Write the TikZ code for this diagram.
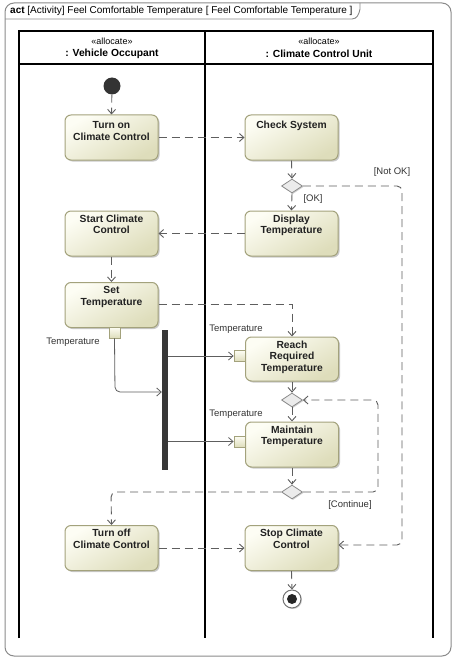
\documentclass[tikz,border=0pt]{standalone}
\usepackage{fontspec}
\setmainfont{Liberation Sans}
\usetikzlibrary{arrows.meta,shapes.geometric,shadows}
\definecolor{edgec}{HTML}{5E5E5E}
\definecolor{actborder}{HTML}{A3A27C}
\definecolor{acttop}{HTML}{FDFDF4}
\definecolor{actbot}{HTML}{DEDDBB}
\definecolor{framec}{HTML}{8A8A8A}
\definecolor{txtc}{HTML}{222222}
\begin{document}
\begin{tikzpicture}[x=1pt,y=-1pt,
  actbox/.style={rectangle, rounded corners=6pt, minimum width=93pt, minimum height=45pt,
    draw=actborder, line width=1pt, top color=acttop, bottom color=actbot, shading angle=30,
    drop shadow={shadow xshift=1.5pt, shadow yshift=-1.5pt, fill=black!35, opacity=0.6}},
  acttext/.style={anchor=north, align=center, inner sep=2pt, text=txtc,
    font=\fontsize{10.3}{11.8}\selectfont\bfseries},
  pinbox/.style={rectangle, minimum size=11pt, inner sep=0pt, draw=actborder, line width=0.8pt,
    top color=acttop, bottom color=actbot},
  decis/.style={diamond, minimum width=21pt, minimum height=14pt, inner sep=0pt, aspect=1.5,
    draw=black!45, fill=black!8, line width=0.8pt,
    drop shadow={shadow xshift=1pt, shadow yshift=-1pt, fill=black!30, opacity=0.6}},
  ctrl/.style={draw=edgec, line width=0.9pt, dash pattern=on 8pt off 5pt,
    -{Straight Barb[length=4.5pt,width=8pt]}},
  objf/.style={draw=edgec, line width=0.8pt, -{Straight Barb[length=4.5pt,width=8pt]}},
  small/.style={font=\fontsize{9.5}{11}\selectfont, text=black!80, inner sep=0pt},
  lane/.style={line width=1.5pt, draw=black}
]
\useasboundingbox (0,0) rectangle (458,658);
% frame
\draw[framec, line width=1pt, rounded corners=9pt] (5,3) rectangle (451,656);
\draw[framec, line width=0.9pt] (5,19) -- (352,19) to[out=0,in=-100] (360,9) -- (360,3);
\node[anchor=west, inner sep=0pt, font=\fontsize{10}{11}\selectfont] (title) at (10,11)
  {\textbf{act} [Activity] Feel Comfortable Temperature [ Feel Comfortable Temperature ]};
% swimlanes
\draw[lane] (19,638) -- (19,31) -- (433,31) -- (433,638);
\draw[lane] (205,31) -- (205,638);
\draw[lane] (19,64) -- (433,64);
\node[font=\fontsize{9}{10}\selectfont, inner sep=0pt] (s1) at (112,41) {«allocate»};
\node[font=\fontsize{10.3}{11}\selectfont\bfseries, inner sep=0pt] (h1) at (112,53.5) {: Vehicle Occupant};
\node[font=\fontsize{9}{10}\selectfont, inner sep=0pt] (s2) at (319,41) {«allocate»};
\node[font=\fontsize{10.3}{11}\selectfont\bfseries, inner sep=0pt] (h2) at (319,53.5) {: Climate Control Unit};
% initial & final
\node[circle, fill=black!80, minimum size=17pt, inner sep=0pt] (init) at (112,86) {};
\node[circle, draw=black!55, fill=white, line width=1pt, minimum size=18pt, inner sep=0pt,
  drop shadow={shadow xshift=1pt, shadow yshift=-1pt, fill=black!30, opacity=0.6}] (final) at (292,599) {};
\node[circle, fill=black!85, minimum size=10pt, inner sep=0pt] (finaldot) at (final) {};
% actions
\node[actbox] (turnon) at (111.5,137.5) {};
\node[acttext] (turnonT) at ([yshift=-4.5pt]turnon.north) {Turn on\\Climate Control};
\node[actbox] (check) at (291.5,137.5) {};
\node[acttext] (checkT) at ([yshift=-4pt]check.north) {Check System};
\node[actbox] (startcc) at (111.5,233.5) {};
\node[acttext] (startccT) at ([yshift=-2pt]startcc.north) {Start Climate\\Control};
\node[actbox] (display) at (291.5,233.5) {};
\node[acttext] (displayT) at ([yshift=-2pt]display.north) {Display\\Temperature};
\node[actbox] (settemp) at (111.5,305) {};
\node[acttext] (settempT) at ([yshift=-2pt]settemp.north) {Set\\Temperature};
\node[actbox, minimum height=44pt] (reach) at (292,359) {};
\node[acttext, font=\fontsize{10.3}{11.5}\selectfont\bfseries] (reachT) at ([yshift=-2pt]reach.north) {Reach\\Required\\Temperature};
\node[actbox] (maintain) at (292,444.5) {};
\node[acttext] (maintainT) at ([yshift=-2pt]maintain.north) {Maintain\\Temperature};
\node[actbox] (turnoff) at (111.5,548) {};
\node[acttext] (turnoffT) at ([yshift=-2pt]turnoff.north) {Turn off\\Climate Control};
\node[actbox] (stop) at (291.5,548) {};
\node[acttext] (stopT) at ([yshift=-2pt]stop.north) {Stop Climate\\Control};
% decisions
\node[decis] (d1) at (292,186) {};
\node[decis] (d2) at (292,400) {};
\node[decis] (d3) at (292,492) {};
% pins
\node[pinbox] (pin0) at (114.5,332.5) {};
\node[pinbox] (pin1) at (239.5,356) {};
\node[pinbox] (pin2) at (239.5,441.5) {};
% fork
\node[rectangle, fill=black!78, minimum width=6pt, minimum height=140pt, inner sep=0pt] (fork) at (165,400) {};
% labels
\node[small] (lp0) at (73,342) {Temperature};
\node[small] (lp1) at (236,329) {Temperature};
\node[small] (lp2) at (236,414) {Temperature};
\node[small] (gnok) at (392,172.5) {[Not OK]};
\node[small] (gok) at (313,199) {[OK]};
\node[small] (gcont) at (350,505) {[Continue]};
% connectors
\coordinate (c1) at (402,186);
\coordinate (c2) at (402,545);
\coordinate (c3) at (292,304);
\coordinate (c4) at (115,392);
\coordinate (c5) at (111,492);
\coordinate (c6) at (378,492);
\coordinate (c7) at (378,400);
\draw[ctrl] (init) -- (turnon.north);
\draw[ctrl] (turnon.east) -- (check.west);
\draw[ctrl] (check.south) -- (d1.north);
\draw[ctrl, rounded corners=5pt] (d1.east) -- (c1) -- (c2) -- (stop.east |- c2);
\draw[ctrl] (d1.south) -- (display.north);
\draw[ctrl] (display.west) -- (startcc.east);
\draw[ctrl] (startcc.south) -- (settemp.north);
\draw[ctrl] (settemp.east |- c3) -- (c3) -- (reach.north);
\draw[objf, rounded corners=5pt] (pin0.south) -- (c4) -- (fork.west |- c4);
\draw[objf] (fork.east |- pin1) -- (pin1.west);
\draw[objf] (fork.east |- pin2) -- (pin2.west);
\draw[ctrl] (reach.south) -- (d2.north);
\draw[ctrl] (d2.south) -- (maintain.north);
\draw[ctrl] (maintain.south) -- (d3.north);
\draw[ctrl, rounded corners=5pt] (d3.west) -- (c5) -- (turnoff.north);
\draw[ctrl, rounded corners=5pt] (d3.east) -- (c6) -- (c7) -- (d2.east);
\draw[ctrl] (turnoff.east) -- (stop.west);
\draw[ctrl] (stop.south) -- (final.north);
\end{tikzpicture}
\end{document}
